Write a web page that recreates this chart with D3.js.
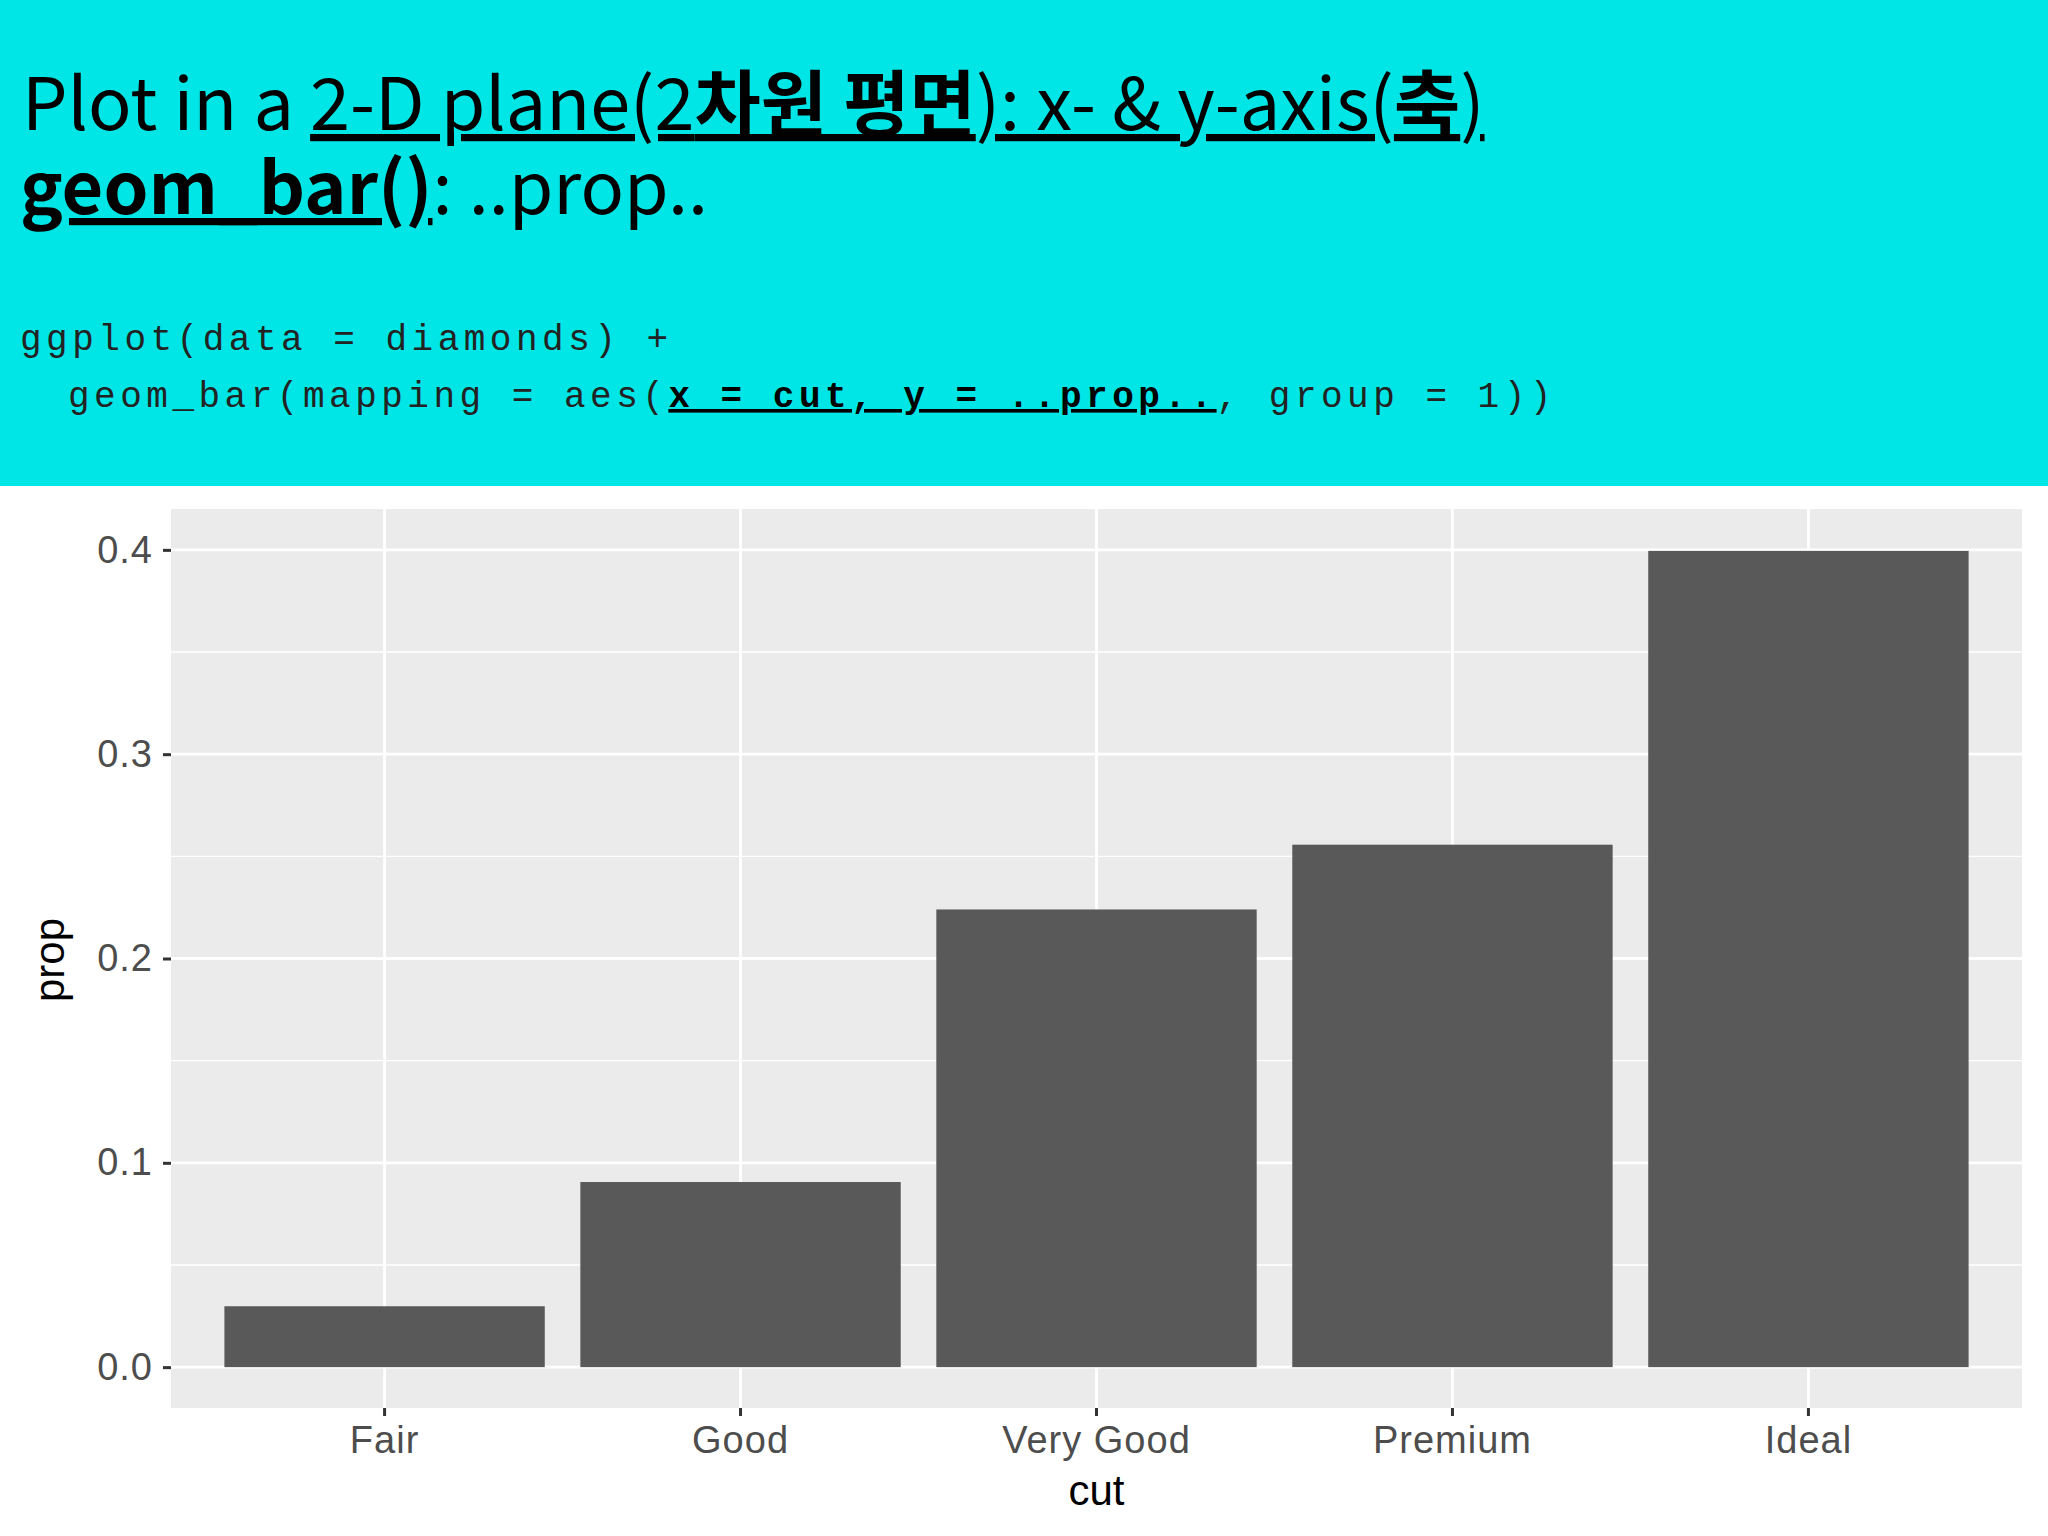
<!DOCTYPE html>
<html lang="en">
<head>
<meta charset="UTF-8">
<script src="https://d3js.org/d3.v7.min.js"></script>
<style>
  body { margin: 0; background: #fff; }
  svg text { white-space: pre; }
</style>
</head>
<body>
<svg id="chart" width="2048" height="1536"></svg>
<script>
// data
const cuts = ["Fair", "Good", "Very Good", "Premium", "Ideal"];
const props = [0.0298, 0.0906, 0.2240, 0.2557, 0.3995];
const yTicks = [0.0, 0.1, 0.2, 0.3, 0.4];
const yMinor = [0.05, 0.15, 0.25, 0.35];

const svg = d3.select("#chart");

// cyan header
svg.append("rect").attr("width", 2048).attr("height", 486).attr("fill", "#00E5E5");

const title = svg.append("g").attr("font-family", "'Noto Sans CJK KR', 'Noto Sans', sans-serif").attr("fill", "#000");
const t1 = title.append("text").attr("x", 22).attr("y", 130).attr("font-size", 72);
t1.append("tspan").text("Plot in a ");
t1.append("tspan").attr("text-decoration", "underline").text("2-D plane(2");
t1.append("tspan").attr("text-decoration", "underline").attr("font-weight", "bold").text("차원 평면");
t1.append("tspan").attr("text-decoration", "underline").text("): x- & y-axis(");
t1.append("tspan").attr("text-decoration", "underline").attr("font-weight", "bold").text("축");
t1.append("tspan").attr("text-decoration", "underline").text(")");
const t2 = title.append("text").attr("x", 20).attr("y", 214).attr("font-size", 72);
t2.append("tspan").attr("text-decoration", "underline").attr("font-weight", "bold").text("geom_bar()");
t2.append("tspan").text(": ..prop..");

const code = svg.append("g").attr("font-family", "'Liberation Mono', monospace")
  .attr("font-size", 36).attr("letter-spacing", 4.5).attr("fill", "#222");
code.append("text").attr("x", 20).attr("y", 350).text("ggplot(data = diamonds) +");
const c2 = code.append("text").attr("x", 68).attr("y", 407);
c2.append("tspan").text("geom_bar(mapping = aes(");
c2.append("tspan").attr("font-weight", "bold").attr("fill", "#000").attr("text-decoration", "underline").text("x = cut, y = ..prop..");
c2.append("tspan").text(", group = 1))");

// plot panel
const panel = {left: 171, right: 2022, top: 509, bottom: 1408};

const x = d3.scaleBand().domain(cuts)
  .range([panel.left, panel.right])
  .paddingInner(0.1).paddingOuter(0.15);
const y = d3.scaleLinear().domain([-0.02, 0.42]).range([panel.bottom, panel.top]);

svg.append("rect").attr("x", panel.left).attr("y", panel.top)
  .attr("width", panel.right - panel.left).attr("height", panel.bottom - panel.top)
  .attr("fill", "#EBEBEB");

const grid = svg.append("g").attr("stroke", "#fff");
grid.selectAll(".minor").data(yMinor).enter().append("line")
  .attr("x1", panel.left).attr("x2", panel.right)
  .attr("y1", d => y(d)).attr("y2", d => y(d)).attr("stroke-width", 1.4);
grid.selectAll(".major").data(yTicks).enter().append("line")
  .attr("x1", panel.left).attr("x2", panel.right)
  .attr("y1", d => y(d)).attr("y2", d => y(d)).attr("stroke-width", 2.8);
grid.selectAll(".vx").data(cuts).enter().append("line")
  .attr("y1", panel.top).attr("y2", panel.bottom)
  .attr("x1", d => x(d) + x.bandwidth() / 2).attr("x2", d => x(d) + x.bandwidth() / 2)
  .attr("stroke-width", 2.8);

svg.append("g").selectAll("rect").data(cuts).enter().append("rect")
  .attr("x", d => x(d)).attr("width", x.bandwidth())
  .attr("y", (d, i) => y(props[i])).attr("height", (d, i) => y(0) - y(props[i]))
  .attr("fill", "#595959");

// axes
const yAxis = svg.append("g").attr("transform", `translate(${panel.left},0)`)
  .call(d3.axisLeft(y).tickValues(yTicks).tickFormat(d3.format(".1f")).tickSize(8).tickPadding(10));
const xAxis = svg.append("g").attr("transform", `translate(0,${panel.bottom})`)
  .call(d3.axisBottom(x).tickSize(8).tickPadding(10));
[yAxis, xAxis].forEach(a => {
  a.select(".domain").remove();
  a.selectAll(".tick line").attr("stroke", "#333").attr("stroke-width", 3);
  a.selectAll("text").attr("font-family", "'Liberation Sans', Arial, sans-serif")
    .attr("font-size", 38).attr("letter-spacing", 1).attr("fill", "#4D4D4D");
});

svg.append("text").attr("x", (panel.left + panel.right) / 2).attr("y", 1505)
  .attr("text-anchor", "middle").attr("font-family", "'Liberation Sans', Arial, sans-serif")
  .attr("font-size", 42).attr("fill", "#000").text("cut");
svg.append("text").attr("transform", "translate(64,960) rotate(-90)")
  .attr("text-anchor", "middle").attr("font-family", "'Liberation Sans', Arial, sans-serif")
  .attr("font-size", 42).attr("fill", "#000").text("prop");
</script>
</body>
</html>
